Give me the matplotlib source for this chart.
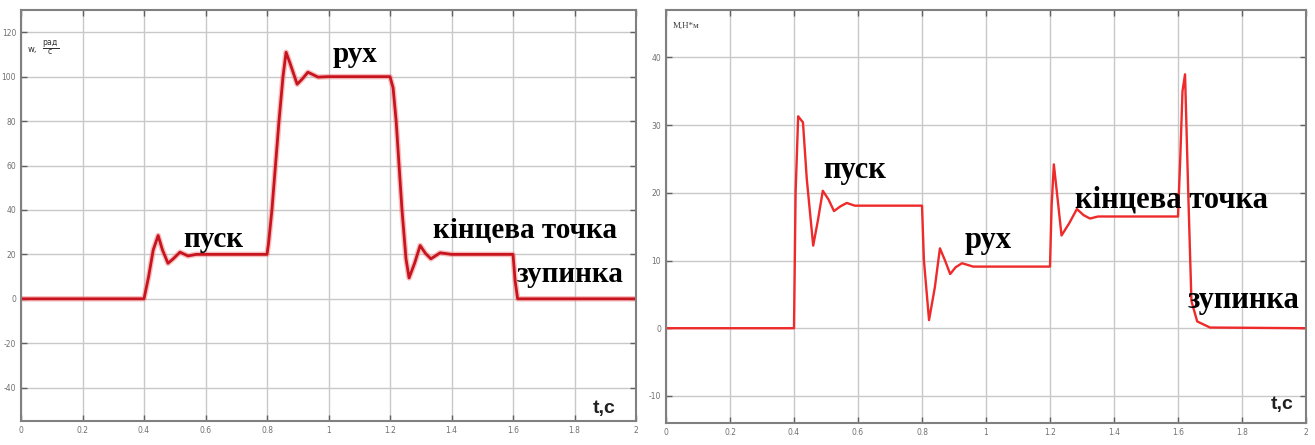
import matplotlib.pyplot as plt

plt.rcParams['axes.unicode_minus'] = False

# Кутова швидкість w(t), рад/с
t_w = [0, 0.40, 0.415, 0.43, 0.446, 0.46, 0.478, 0.495, 0.517, 0.543, 0.57, 0.60,
       0.80, 0.805, 0.816, 0.839, 0.852, 0.862, 0.875, 0.898, 0.915, 0.933, 0.966, 1.00,
       1.20, 1.21, 1.22, 1.239, 1.252, 1.262, 1.28, 1.298, 1.315, 1.333, 1.363, 1.40,
       1.60, 1.607, 1.615, 2.0]
w = [0, 0, 10, 22, 28.5, 22, 16, 18, 21, 19.3, 20, 20,
     20, 25, 40, 80, 100, 111, 106, 96.6, 99, 102, 99.8, 100,
     100, 95, 80, 40, 18, 9.4, 16, 24, 20.5, 18, 20.7, 20,
     20, 8, 0, 0]

# Момент M(t), Н*м
t_m = [0, 0.40, 0.405, 0.413, 0.428, 0.44, 0.46, 0.475, 0.49, 0.508, 0.525, 0.545, 0.565, 0.59,
       0.80, 0.806, 0.822, 0.84, 0.856, 0.872, 0.888, 0.905, 0.925, 0.96,
       1.20, 1.205, 1.212, 1.224, 1.236, 1.26, 1.284, 1.305, 1.325, 1.35,
       1.60, 1.607, 1.614, 1.622, 1.632, 1.642, 1.66, 1.70, 2.0]
m = [0, 0, 20, 31.3, 30.4, 22, 12.2, 16, 20.3, 19, 17.3, 18, 18.5, 18.1,
     18.1, 10, 1.2, 6, 11.8, 10, 8.0, 9, 9.6, 9.1,
     9.1, 18, 24.2, 19, 13.7, 15.5, 17.6, 16.7, 16.2, 16.5,
     16.5, 25, 35, 37.5, 20, 4, 1.0, 0.1, 0]

# підписи етапів руху: (текст, t, значення)
labels_w = [("пуск", 0.527, 23.4), ("рух", 1.015, 106.5),
            ("кінцева точка", 1.34, 27.4), ("зупинка", 1.613, 7.4)]
labels_m = [("пуск", 0.49, 22.2), ("рух", 0.934, 11.9),
            ("кінцева точка", 1.278, 17.9), ("зупинка", 1.63, 3.0)]

x_ticks = [0, 0.2, 0.4, 0.6, 0.8, 1, 1.2, 1.4, 1.6, 1.8, 2]
x_tick_labels = ["0", "0.2", "0.4", "0.6", "0.8", "1", "1.2", "1.4", "1.6", "1.8", "2"]
w_ticks = [-40, -20, 0, 20, 40, 60, 80, 100, 120]
m_ticks = [-10, 0, 10, 20, 30, 40]

fig = plt.figure(figsize=(13.15, 4.45), dpi=100)
ax1 = fig.add_axes([21 / 1315, 24 / 445, 615 / 1315, 411 / 445])
ax2 = fig.add_axes([666 / 1315, 22 / 445, 640 / 1315, 413 / 445])


def style(ax, yticks):
    ax.set_xlim(0, 2)
    ax.set_xticks(x_ticks)
    ax.set_xticklabels(x_tick_labels)
    ax.set_yticks(yticks)
    ax.grid(True, color="#c8c8c8", linewidth=1.0)
    ax.set_axisbelow(True)
    ax.tick_params(direction="in", length=4, width=1, color="#606060",
                   labelsize=5.5, labelcolor="#707070", top=True, right=True)
    for sp in ax.spines.values():
        sp.set_color("#808080")
        sp.set_linewidth(1.5)


# ліва панель: швидкість
style(ax1, w_ticks)
ax1.set_ylim(-55, 130)
ax1.plot(t_w, w, color="#f08080", linewidth=4.0, alpha=0.5, solid_joinstyle="round")
ax1.plot(t_w, w, color="#c8141e", linewidth=2.0, solid_joinstyle="round")
for txt, tx, vy in labels_w:
    ax1.text(tx, vy, txt, fontsize=21, fontweight="bold", family="Liberation Serif",
             ha="left", va="baseline", color="black")
ax1.text(0.022, 112, "w,", fontsize=6, color="#303030", ha="left", va="center")
ax1.text(0.095, 113, r"$\frac{\mathrm{рад}}{\mathrm{с}}$", fontsize=8, color="#303030",
         ha="center", va="center")
ax1.text(1.86, -51.2, "t,c", fontsize=14, fontweight="bold", family="Liberation Sans",
         ha="left", va="baseline", color="#202020")

# права панель: момент
style(ax2, m_ticks)
ax2.set_ylim(-14, 47)
ax2.plot(t_m, m, color="#ee2a2a", linewidth=1.7, solid_joinstyle="round")
for txt, tx, vy in labels_m:
    ax2.text(tx, vy, txt, fontsize=22, fontweight="bold", family="Liberation Serif",
             ha="left", va="baseline", color="black")
ax2.text(0.02, 44.6, "М,Н*м", fontsize=6.5, family="Liberation Serif", color="#404040",
         ha="left", va="center")
ax2.text(1.89, -12.0, "t,c", fontsize=14, fontweight="bold", family="Liberation Sans",
         ha="left", va="baseline", color="#202020")

fig.savefig("out.png", dpi=100, facecolor="white")
